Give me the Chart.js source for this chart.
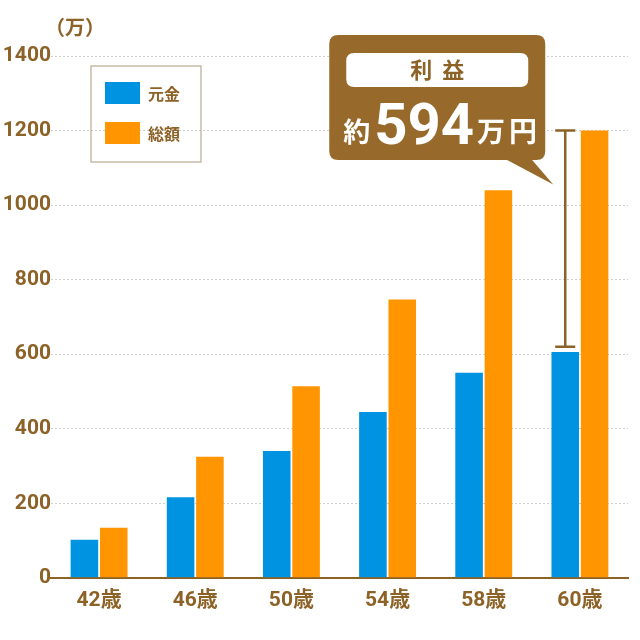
<!DOCTYPE html>
<html>
<head>
<meta charset="utf-8">
<script src="https://cdn.jsdelivr.net/npm/chart.js@4"></script>
<style>
  html, body { margin: 0; padding: 0; background: #fff; }
  #wrap { width: 640px; height: 640px; }
</style>
</head>
<body>
<div id="wrap"><canvas id="chart" width="640" height="640"></canvas></div>
<script>
// data
var ages = ['42歳', '46歳', '50歳', '54歳', '58歳', '60歳']
var principal = [102, 216, 340, 445, 550, 606]
var total = [134, 325, 514, 747, 1040, 1200]
var yMax = 1400
var yStep = 200
var bracketLow = 620   // lower end of the profit bracket

var BROWN = '#8d6227'
var BLUE = '#0093e2'
var ORANGE = '#ff9500'
var FONT = "Roboto, 'Noto Sans CJK JP', sans-serif"
var JP = "'Noto Sans CJK JP', sans-serif"

function roundRect(ctx, x, y, w, h, r) {
  ctx.beginPath()
  ctx.moveTo(x + r, y)
  ctx.lineTo(x + w - r, y)
  ctx.quadraticCurveTo(x + w, y, x + w, y + r)
  ctx.lineTo(x + w, y + h - r)
  ctx.quadraticCurveTo(x + w, y + h, x + w - r, y + h)
  ctx.lineTo(x + r, y + h)
  ctx.quadraticCurveTo(x, y + h, x, y + h - r)
  ctx.lineTo(x, y + r)
  ctx.quadraticCurveTo(x, y, x + r, y)
  ctx.closePath()
}

// unit label, boxed legend, profit bracket and callout
var extras = {
  id: 'extras',
  afterDraw: function(chart) {
    var ctx = chart.ctx
    var area = chart.chartArea
    var y = chart.scales.y
    ctx.save()

    // (万)
    ctx.fillStyle = BROWN
    ctx.font = 'bold 20px ' + JP
    ctx.textAlign = 'left'
    ctx.textBaseline = 'middle'
    ctx.fillText('（万）', area.left - 6, 27)

    // legend box
    var lx = 91, ly = 66
    ctx.strokeStyle = '#bba98f'
    ctx.lineWidth = 1.2
    ctx.strokeRect(lx, ly, 110, 96)
    chart.data.datasets.forEach(function(ds, i) {
      var iy = ly + 16 + i * 40
      ctx.fillStyle = ds.backgroundColor
      ctx.fillRect(lx + 14, iy, 35, 22)
      ctx.fillStyle = BROWN
      ctx.font = 'bold 16px ' + JP
      ctx.fillText(ds.label, lx + 57, iy + 12)
    })

    // bracket over the last principal bar
    var last = ages.length - 1
    var bx = chart.getDatasetMeta(0).data[last].x
    var yTop = y.getPixelForValue(total[last])
    var yBot = y.getPixelForValue(bracketLow)
    ctx.strokeStyle = BROWN
    ctx.lineWidth = 2.5
    ctx.beginPath()
    ctx.moveTo(bx, yTop); ctx.lineTo(bx, yBot)
    ctx.moveTo(bx - 10, yTop); ctx.lineTo(bx + 10, yTop)
    ctx.moveTo(bx - 10, yBot); ctx.lineTo(bx + 10, yBot)
    ctx.stroke()

    // callout
    var cw = 216, ch = 125
    var cx = bx - 20 - cw, cy = 35
    ctx.fillStyle = '#976a2c'
    roundRect(ctx, cx, cy, cw, ch, 9)
    ctx.fill()
    ctx.beginPath()
    ctx.moveTo(cx + cw - 40, cy + ch - 1)
    ctx.lineTo(bx - 12, y.getPixelForValue(1055))
    ctx.lineTo(cx + cw - 14, cy + ch - 1)
    ctx.closePath()
    ctx.fill()

    ctx.fillStyle = '#fff'
    roundRect(ctx, cx + 17, cy + 18, 182, 34, 8)
    ctx.fill()
    ctx.fillStyle = BROWN
    ctx.font = 'bold 22px ' + JP
    ctx.textAlign = 'center'
    ctx.fillText('利', cx + cw / 2 - 16, cy + 35)
    ctx.fillText('益', cx + cw / 2 + 16, cy + 35)

    var profit = total[last] - principal[last]
    ctx.fillStyle = '#fff'
    ctx.textAlign = 'left'
    ctx.textBaseline = 'alphabetic'
    var base = cy + 109
    ctx.font = 'bold 27px ' + JP
    ctx.fillText('約', cx + 14, base - 2)
    ctx.font = 'bold 58px Roboto, sans-serif'
    ctx.fillText(String(profit), cx + 45, base)
    var w = ctx.measureText(String(profit)).width
    ctx.font = 'bold 28px ' + JP
    ctx.fillText('万', cx + 45 + w + 3, base - 2)
    ctx.fillText('円', cx + 45 + w + 35, base - 2)
    ctx.restore()
  }
}

var chart = new Chart(document.getElementById('chart'), {
  type: 'bar',
  data: {
    labels: ages,
    datasets: [
      { label: '元金', data: principal, backgroundColor: BLUE },
      { label: '総額', data: total, backgroundColor: ORANGE }
    ]
  },
  options: {
    responsive: false,
    animation: false,
    devicePixelRatio: 1,
    layout: { padding: { top: 56, right: 12, bottom: 17, left: 0 } },
    datasets: {
      bar: { categoryPercentage: 0.61, barPercentage: 0.94 }
    },
    plugins: {
      legend: { display: false },
      tooltip: { enabled: false }
    },
    scales: {
      x: {
        grid: { display: false, drawTicks: false },
        border: { display: true, color: BROWN, width: 2 },
        ticks: { color: BROWN, font: { family: FONT, size: 21, weight: 'bold' }, padding: 10 }
      },
      y: {
        min: 0,
        max: yMax,
        afterFit: function(s) { s.width = 51 },
        grid: { color: '#cfcfcf', lineWidth: 1, drawTicks: false },
        border: { display: false, dash: [2, 2] },
        ticks: {
          stepSize: yStep,
          color: BROWN,
          padding: 0,
          font: { family: FONT, size: 21, weight: 'bold' },
          callback: function(v) { return String(v) }
        }
      }
    }
  },
  plugins: [extras]
})
</script>
</body>
</html>
